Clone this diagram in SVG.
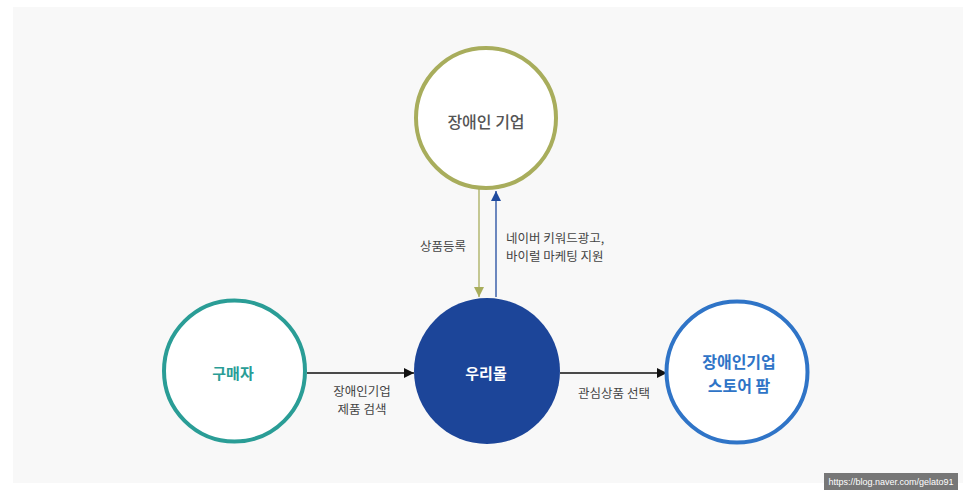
<svg xmlns="http://www.w3.org/2000/svg" width="966" height="498" viewBox="0 0 966 498">
<defs>
<style>
text{font-family:"Noto Sans CJK KR","Noto Sans",sans-serif;text-anchor:middle;dominant-baseline:central}
.node{font-size:15px;font-weight:bold}
.lbl{font-size:12.5px;fill:#444}
</style>
<marker id="ak" viewBox="0 0 10 10" refX="10" refY="5" markerWidth="10" markerHeight="10" markerUnits="userSpaceOnUse" orient="auto"><path d="M0,0L10,5L0,10z" fill="#111"/></marker>
<marker id="ag" viewBox="0 0 10 10" refX="10" refY="5" markerWidth="10" markerHeight="10" markerUnits="userSpaceOnUse" orient="auto"><path d="M0,0L10,5L0,10z" fill="#a8ad5c"/></marker>
<marker id="ab" viewBox="0 0 10 10" refX="10" refY="5" markerWidth="10" markerHeight="10" markerUnits="userSpaceOnUse" orient="auto"><path d="M0,0L10,5L0,10z" fill="#1f4a9e"/></marker>
</defs>
<rect width="966" height="498" fill="#ffffff"/>
<rect x="13" y="7" width="950" height="476" fill="#f8f8f8"/>
<g id="connectors">
<line x1="479" y1="189" x2="479" y2="297" stroke="#a8ad5c" stroke-width="1.3" marker-end="url(#ag)"/>
<line x1="496" y1="297" x2="496" y2="191" stroke="#1f4a9e" stroke-width="1.3" marker-end="url(#ab)"/>
<line x1="307" y1="373" x2="414" y2="373" stroke="#111" stroke-width="1.3" marker-end="url(#ak)"/>
<line x1="560" y1="373" x2="667" y2="373" stroke="#111" stroke-width="1.3" marker-end="url(#ak)"/>
<text class="lbl" x="443" y="245">상품등록</text>
<text class="lbl" x="506" y="237" style="text-anchor:start">네이버 키워드광고,</text>
<text class="lbl" x="506" y="255" style="text-anchor:start">바이럴 마케팅 지원</text>
<text class="lbl" x="362" y="390">장애인기업</text>
<text class="lbl" x="362" y="408">제품 검색</text>
<text class="lbl" x="614" y="392">관심상품 선택</text>
</g>
<g id="node-company">
<circle cx="486" cy="118" r="70" fill="#fff" stroke="#a8ad5c" stroke-width="4"/>
<text class="node" x="486" y="121" fill="#555" style="font-weight:500;font-size:16px">장애인 기업</text>
</g>
<g id="node-woorimall">
<circle cx="487" cy="371" r="73" fill="#1c4599"/>
<text class="node" x="486" y="372" fill="#fff">우리몰</text>
</g>
<g id="node-buyer">
<circle cx="234.5" cy="371" r="70.5" fill="#fff" stroke="#2a9d96" stroke-width="4"/>
<text class="node" x="233" y="372" fill="#2a9d96">구매자</text>
</g>
<g id="node-store">
<circle cx="737" cy="372" r="70.5" fill="#fff" stroke="#2f74c7" stroke-width="4"/>
<text class="node" x="739" y="361" fill="#2f74c7" style="font-size:16px">장애인기업</text>
<text class="node" x="739" y="385" fill="#2f74c7" style="font-size:16px">스토어 팜</text>
</g>
<g id="watermark">
<rect x="824" y="473" width="134" height="17" fill="#777"/>
<text x="891" y="481.5" fill="#fff" style="font-size:9px;font-family:'Liberation Sans',sans-serif">https://blog.naver.com/gelato91</text>
</g>
</svg>
